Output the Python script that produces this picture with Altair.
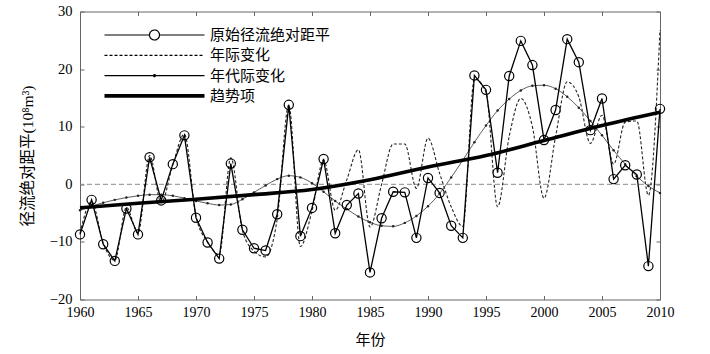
import altair as alt
import pandas as pd

# ---------------- data ----------------
years = list(range(1960, 2011))

original = [-8.7, -2.7, -10.4, -13.3, -4.2, -8.7, 4.7, -2.8, 3.5, 8.5,
            -5.8, -10.1, -12.9, 3.6, -7.9, -11.1, -11.5, -5.2, 13.8, -9.0,
            -4.1, 4.4, -8.5, -3.6, -1.6, -15.3, -5.9, -1.3, -1.4, -9.3,
            1.1, -1.5, -7.2, -9.3, 18.9, 16.4, 2.0, 18.8, 24.9, 20.7,
            7.7, 12.9, 25.2, 21.2, 9.4, 14.9, 0.9, 3.3, 1.7, -14.2, 13.1]

interannual = [-8.5, -3.0, -10.2, -13.2, -4.0, -8.5, 5.0, -3.2, 3.4, 8.7,
               -5.6, -10.0, -12.2, 4.6, -8.0, -11.6, -12.6, -6.0, 13.8, -10.8,
               -4.6, 4.2, -4.5, 0.8, 6.0, -7.4, 0.0, 7.0, 7.0, -0.7,
               8.0, 1.9, -3.9, -7.3, 18.3, 16.0, -3.9, 8.3, 14.9, 10.0,
               -2.4, 8.3, 17.8, 15.2, 7.1, 12.0, 3.5, 10.8, 11.0, -1.9, 26.8]

decadal = [-4.5, -3.8, -3.2, -2.7, -2.3, -2.0, -1.8, -1.8, -2.0, -2.4,
           -2.9, -3.3, -3.6, -3.5, -2.6, -1.4, -0.2, 0.9, 1.5, 1.2,
           0.2, -1.3, -2.9, -4.3, -5.6, -6.6, -7.2, -7.3, -6.7, -5.5,
           -3.8, -1.6, 1.2, 4.2, 7.3, 10.2, 12.8, 14.8, 16.3, 17.1,
           17.2, 16.6, 15.2, 13.3, 11.0, 8.5, 5.9, 3.5, 1.4, -0.3, -1.5]

trend_years = [1960, 1965, 1970, 1975, 1980, 1985, 1990, 1995, 2000, 2005, 2010]
trend_vals = [-4.1, -3.3, -2.6, -1.8, -0.9, 0.8, 3.0, 5.0, 7.6, 10.2, 12.5]

series_names = ["原始径流绝对距平", "年际变化", "年代际变化", "趋势项"]
zero_level = [0]

x_ticks = list(range(1960, 2011, 5))
y_ticks = [-20, -10, 0, 10, 20, 30]

# ---------------- tables ----------------
df = pd.DataFrame({"year": years, "orig": original, "inter": interannual, "dec": decadal})
df_trend = pd.DataFrame({"year": trend_years, "trend": trend_vals})
df_zero = pd.DataFrame({"v": zero_level})
df_leg = pd.DataFrame({"series": series_names})

# ---------------- layout / style ----------------
W, H = 580, 288
FRAME = "#666666"
SERIF = "Liberation Serif"
CJK = "Noto Sans CJK SC"

xs = alt.Scale(domain=[1960, 2010], nice=False, zero=False)
ys = alt.Scale(domain=[-20, 30], nice=False, zero=False)

tick_only = dict(labels=False, domain=False, grid=False, ticks=True, tickSize=4,
                 tickColor=FRAME, tickWidth=1, title=None)
ax_x_top = alt.Axis(orient="bottom", offset=-H, values=x_ticks, **tick_only)
ax_x_bot = alt.Axis(orient="top", offset=-H, values=x_ticks, **tick_only)
ax_y_left = alt.Axis(orient="right", offset=-W, values=y_ticks, **tick_only)
ax_y_right = alt.Axis(orient="left", offset=-W, values=y_ticks, **tick_only)

ax_x_main = alt.Axis(orient="bottom", values=x_ticks, format="d", ticks=False, tickSize=0,
                     domain=False, grid=False, labelFont=SERIF, labelFontSize=14,
                     labelColor="black", labelPadding=6, labelFlush=False,
                     title="年份", titleFont=CJK, titleFontSize=15, titleFontWeight="normal",
                     titleColor="black", titleX=W / 2, titleY=40, titleBaseline="middle",
                     titleAlign="center")
ax_y_main = alt.Axis(orient="left", values=y_ticks, format="d", ticks=False, tickSize=0,
                     domain=False, grid=False, labelFont=SERIF, labelFontSize=14.5,
                     labelColor="black", labelPadding=8, labelFlush=False,
                     title="径流绝对距平(10⁸m³)", titleFont=SERIF + ", " + CJK,
                     titleFontSize=15.5, titleFontWeight="normal", titleColor="black",
                     titleX=-53, titleY=H / 2, titleAngle=-90, titleBaseline="middle",
                     titleAlign="center")

# legend symbols: custom paths (unit = sqrt(size)/2 px)
leg_paths = [
    "M-1,0H8M10,0H19M8,0A1,1 0 1,1 10,0A1,1 0 1,1 8,0",
    "M-1,0H19",
    "M-1,0H19M8.8,0A0.2,0.2 0 1,1 9.2,0A0.2,0.2 0 1,1 8.8,0",
    "M-1,-0.25H19M-1,0H19M-1,0.25H19",
]
leg_dash = [[1, 0], [3, 2], [1, 0], [1, 0]]
leg = alt.Legend(title=None, orient="none", legendX=22, legendY=16, padding=0,
                 symbolSize=100, symbolStrokeWidth=1.2, symbolStrokeColor="black",
                 labelFont=CJK, labelFontSize=15, labelColor="black", labelOffset=93,
                 rowPadding=4.3, labelLimit=400)

# ---------------- layers ----------------
zero = alt.Chart(df_zero).mark_rule(color="#8a8a8a", strokeDash=[5, 3], strokeWidth=1).encode(
    y=alt.Y("v:Q", scale=ys, axis=None))

inter = alt.Chart(df).mark_line(color="#222222", strokeWidth=1.1, strokeDash=[3, 2],
                                interpolate="monotone").encode(
    x=alt.X("year:Q", scale=xs, axis=ax_x_top),
    y=alt.Y("inter:Q", scale=ys, axis=ax_y_right))

dec_line = alt.Chart(df).mark_line(color="#333333", strokeWidth=0.8,
                                   interpolate="monotone").encode(
    x=alt.X("year:Q", scale=xs, axis=ax_x_bot),
    y=alt.Y("dec:Q", scale=ys, axis=ax_y_left))

dec_dots = alt.Chart(df).mark_point(filled=True, size=6, color="#222222", opacity=1).encode(
    x=alt.X("year:Q", scale=xs, axis=None),
    y=alt.Y("dec:Q", scale=ys, axis=None))

trend = alt.Chart(df_trend).mark_line(color="black", strokeWidth=3.6,
                                      interpolate="monotone").encode(
    x=alt.X("year:Q", scale=xs, axis=None),
    y=alt.Y("trend:Q", scale=ys, axis=None))

orig_line = alt.Chart(df).mark_line(color="black", strokeWidth=1.3).encode(
    x=alt.X("year:Q", scale=xs, axis=ax_x_main),
    y=alt.Y("orig:Q", scale=ys, axis=ax_y_main))

orig_pts = alt.Chart(df).mark_point(shape="circle", filled=False, size=85, strokeWidth=1.2,
                                    color="black", opacity=1).encode(
    x=alt.X("year:Q", scale=xs, axis=None),
    y=alt.Y("orig:Q", scale=ys, axis=None))

legend_layer = alt.Chart(df_leg).mark_point(filled=False, size=100, strokeWidth=1.2,
                                            color="black", opacity=1).encode(
    shape=alt.Shape("series:N", scale=alt.Scale(domain=series_names, range=leg_paths), legend=leg),
    strokeDash=alt.StrokeDash("series:N", scale=alt.Scale(domain=series_names, range=leg_dash),
                              legend=leg),
).transform_filter("false")

chart = alt.layer(
    zero, inter, dec_line, dec_dots, trend, orig_line, orig_pts, legend_layer
).resolve_axis(
    x="independent", y="independent"
).properties(
    width=W, height=H,
    autosize=alt.AutoSizeParams(type="none"),
    padding={"left": 80, "top": 11.5, "right": 50, "bottom": 54.5},
    background="white",
).configure_view(stroke=FRAME, strokeWidth=1)

chart.save("out.html", embed_options={"renderer": "svg", "actions": False})
